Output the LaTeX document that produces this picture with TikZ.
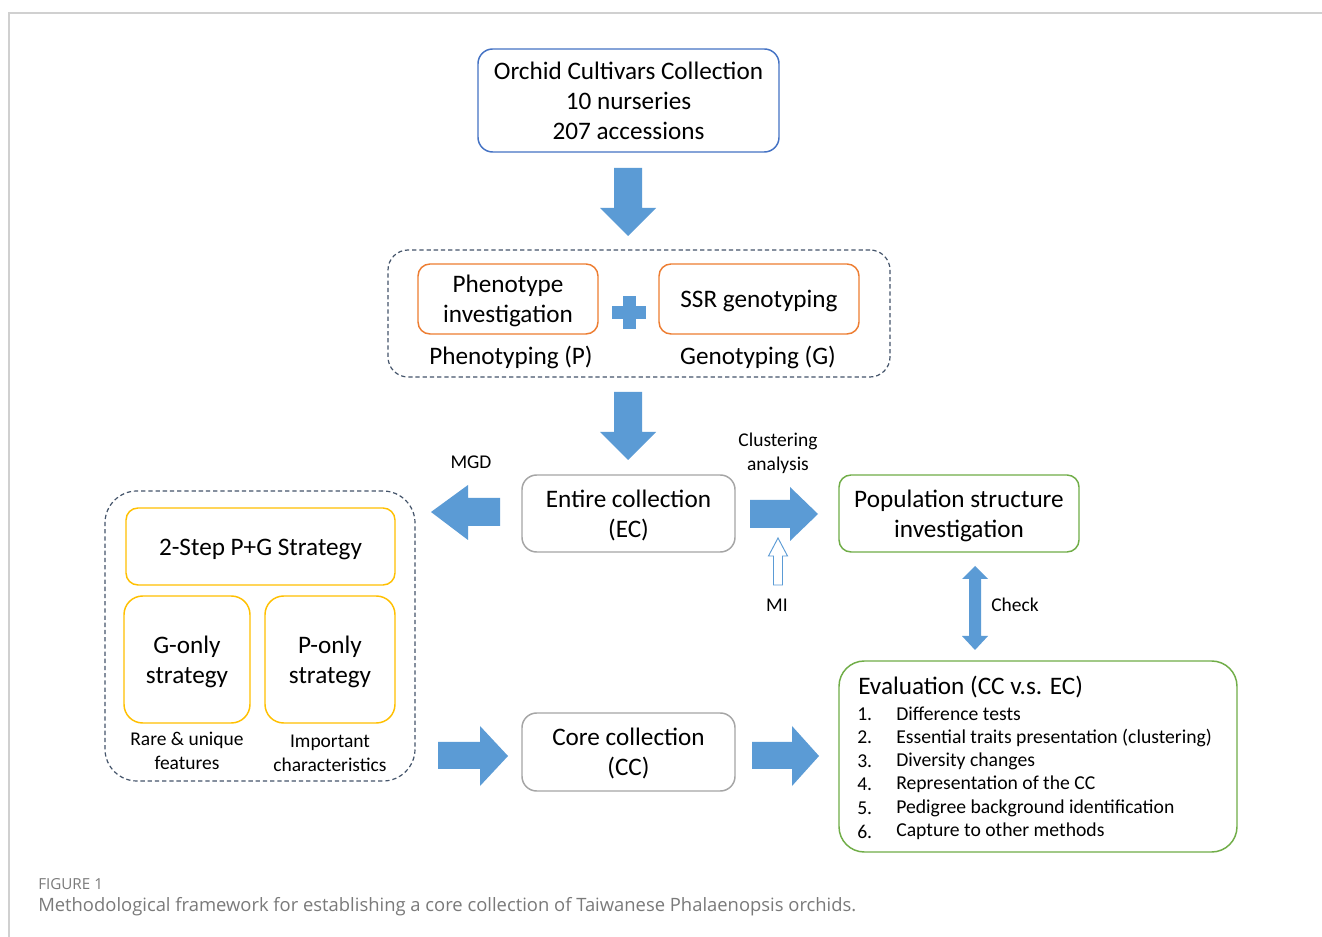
\documentclass[tikz,border=0pt]{standalone}
\usepackage{fontspec}
\setmainfont{Carlito}
\newfontfamily\capfont{Open Sans}
\definecolor{arrowblue}{HTML}{5B9BD5}
\definecolor{topblue}{HTML}{4472C4}
\definecolor{dashgray}{HTML}{44546A}
\definecolor{boxgray}{HTML}{A5A5A5}
\definecolor{boxorange}{HTML}{ED7D31}
\definecolor{boxyellow}{HTML}{FFC000}
\definecolor{boxgreen}{HTML}{70AD47}
\definecolor{framegray}{HTML}{D0D0D0}
\definecolor{capgray}{HTML}{7A7A7A}
\def\px{0.75pt}
\newcommand{\dn}[1]{\raisebox{-2.1pt}[\height][\depth]{\begin{tabular}{@{}c@{}}#1\end{tabular}}}
\tikzset{
  box/.style={draw, line width=1.1pt, rounded corners=11pt, inner sep=0pt, align=center,
    font=\fontsize{18.9}{22.5}\selectfont},
  group/.style={draw=dashgray, line width=0.9pt, dash pattern=on 3.2pt off 2.2pt, inner sep=0pt},
  lbl/.style={inner sep=0pt, align=center, font=\fontsize{18.9}{22.5}\selectfont},
  small/.style={inner sep=0pt, align=center, font=\fontsize{14.6}{18}\selectfont},
  item/.style={inner sep=0pt, anchor=west, font=\fontsize{14.75}{17}\selectfont},
  barrow/.style={fill=arrowblue, draw=none},
}
\begin{document}
\begin{tikzpicture}[x=0.75pt,y=-0.75pt]
\useasboundingbox (0,0) rectangle (1322,937);
\fill[white] (0,0) rectangle (1322,937);
% frame
\draw[framegray, line width=1.3pt] (9,937) -- (9,13) -- (1322,13);

% top box
\node[box, draw=topblue, minimum width=301*\px, minimum height=103*\px] (top) at (628.5,100.5)
  {Orchid Cultivars Collection\\10 nurseries\\207 accessions};

% arrow 1 down
\fill[barrow] (614,168) -- (642,168) -- (642,208) -- (656,208) -- (628,236) -- (600,208) -- (614,208) -- cycle;

% PG group
\node[group, rounded corners=15pt, minimum width=502*\px, minimum height=127*\px] (pg) at (639,313.5) {};
\node[box, draw=boxorange, rounded corners=9pt, minimum width=180*\px, minimum height=70*\px] (pheno) at (508,299)
  {\dn{Phenotype\\investigation}};
\node[box, draw=boxorange, rounded corners=9pt, minimum width=200*\px, minimum height=70*\px] (ssr) at (759,299)
  {\dn{SSR genotyping}};
\fill[arrowblue] (612,306.5) rectangle (646,319.5);
\fill[arrowblue] (622.5,296) rectangle (635.5,329);
\node[lbl] (ptxt) at (511,357) {Phenotyping (P)};
\node[lbl] (gtxt) at (758,357) {Genotyping (G)};

% arrow 2 down
\fill[barrow] (614,392) -- (642,392) -- (642,432) -- (656,432) -- (628,460) -- (600,432) -- (614,432) -- cycle;

% EC
\node[box, draw=boxgray, minimum width=213*\px, minimum height=77*\px] (ec) at (628.5,513.5)
  {\dn{Entire collection\\(EC)}};

% MGD arrow
\fill[barrow] (500,498) -- (500,526) -- (468,526) -- (468,540) -- (431,512) -- (468,485) -- (468,498) -- cycle;
\node[small] (mgd) at (471,462) {MGD};

% clustering arrow
\fill[barrow] (750,500) -- (790,500) -- (790,487) -- (818,514) -- (790,541) -- (790,528) -- (750,528) -- cycle;
\node[small] (clu) at (778,453) {Clustering\\analysis};

% MI hollow arrow
\draw[arrowblue, fill=white, line width=0.7pt] (773.5,585) -- (773.5,556) -- (768.5,556) -- (778,538) -- (787.5,556) -- (782.5,556) -- (782.5,585) -- cycle;
\node[small] (mi) at (777,605) {MI};

% population
\node[box, draw=boxgreen, rounded corners=9pt, minimum width=240*\px, minimum height=77*\px] (pop) at (959,513.5)
  {\dn{Population structure\\investigation}};

% check double arrow
\fill[barrow] (975,566) -- (988,579) -- (981,579) -- (981,636) -- (988,636) -- (975,650) -- (962,636) -- (969,636) -- (969,579) -- (962,579) -- cycle;
\node[small] (chk) at (1015,605) {Check};

% left group
\node[group, rounded corners=24pt, minimum width=310*\px, minimum height=290*\px] (strat) at (260,636) {};
\node[box, draw=boxyellow, rounded corners=9pt, minimum width=269*\px, minimum height=77*\px] (two) at (260.5,546.5)
  {\dn{2-Step P+G Strategy}};
\node[box, draw=boxyellow, rounded corners=14pt, minimum width=126*\px, minimum height=127*\px] (gonly) at (187,659.5)
  {\dn{G-only\\strategy}};
\node[box, draw=boxyellow, rounded corners=14pt, minimum width=130*\px, minimum height=127*\px] (ponly) at (330,659.5)
  {\dn{P-only\\strategy}};
\node[small] (rare) at (187,751) {Rare \& unique\\features};
\node[small] (imp) at (330,753) {Important\\characteristics};

% arrow into CC
\fill[barrow] (438,742) -- (480,742) -- (480,726) -- (508,756) -- (480,786) -- (480,769) -- (438,769) -- cycle;

% CC
\node[box, draw=boxgray, minimum width=213*\px, minimum height=78*\px] (cc) at (628.5,752)
  {\dn{Core collection\\(CC)}};

% arrow into evaluation
\fill[barrow] (752,742) -- (792,742) -- (792,726) -- (819,756) -- (792,786) -- (792,769) -- (752,769) -- cycle;

% evaluation
\node[box, draw=boxgreen, rounded corners=19pt, minimum width=398*\px, minimum height=191*\px] (eval) at (1038,756.5) {};
\node[lbl, anchor=west] (evt) at (858,687) {Evaluation (CC v.s. EC)};
\node[item] (n1) at (857,714) {1.};
\node[item] (t1) at (896,714) {Difference tests};
\node[item] (n2) at (857,737.5) {2.};
\node[item] (t2) at (896,737.5) {Essential traits presentation (clustering)};
\node[item] (n3) at (857,761) {3.};
\node[item] (t3) at (896,761) {Diversity changes};
\node[item] (n4) at (857,784.5) {4.};
\node[item] (t4) at (896,784.5) {Representation of the CC};
\node[item] (n5) at (857,808) {5.};
\node[item] (t5) at (896,808) {Pedigree background identification};
\node[item] (n6) at (857,831.5) {6.};
\node[item] (t6) at (896,831.5) {Capture to other methods};

% caption
\node[inner sep=0pt, anchor=west, text=capgray, font=\capfont\fontsize{11.4}{13}\selectfont] (fig) at (38,884) {FIGURE 1};
\node[inner sep=0pt, anchor=west, text=capgray, font=\capfont\fontsize{13.8}{16}\selectfont] (cap) at (38,907)
  {Methodological framework for establishing a core collection of Taiwanese Phalaenopsis orchids.};
\end{tikzpicture}
\end{document}
